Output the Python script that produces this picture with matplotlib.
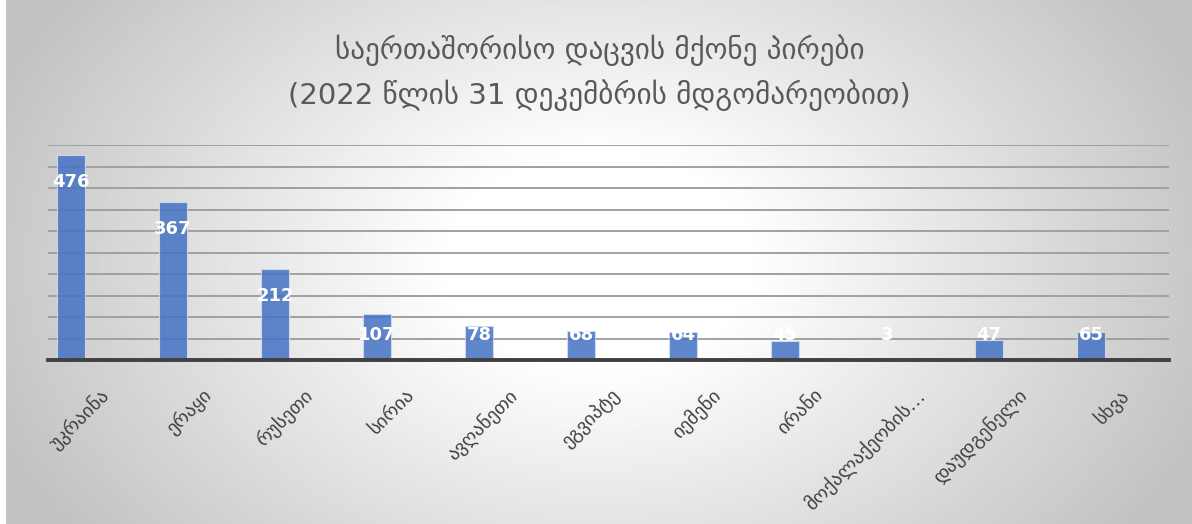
import numpy as np
import matplotlib.pyplot as plt

# მონაცემები
countries = ["უკრაინა", "ერაყი", "რუსეთი", "სირია", "ავღანეთი", "ეგვიპტე",
             "იემენი", "ირანი", "მოქალაქეობის…", "დაუდგენელი", "სხვა"]
values = [476, 367, 212, 107, 78, 68, 64, 45, 3, 47, 65]
title_lines = ["საერთაშორისო დაცვის მქონე პირები",
               "(2022 წლის 31 დეკემბრის მდგომარეობით)"]

plt.rcParams['font.family'] = ['DejaVu Sans']

fig = plt.figure(figsize=(11.92, 5.24), dpi=100)
fig.patch.set_facecolor("white")

# radial gradient background
bg = fig.add_axes([6 / 1192, 0, 1 - 6 / 1192, 1])
yy, xx = np.mgrid[-1:1:300j, -1:1:600j]
r = np.sqrt((xx / 1.0) ** 2 + (yy / 1.6) ** 2)
shade = np.clip(1.0 - 0.24 * np.clip(r - 0.25, 0, None) / 0.85, 0.76, 1.0)
bg.imshow(shade, cmap="gray", vmin=0, vmax=1, aspect="auto", extent=[0, 1, 0, 1])
bg.axis("off")

# plot area in pixels: x 48..1169, y 145..360
ax = fig.add_axes([48 / 1192, 1 - 360 / 524, (1169 - 48) / 1192, (360 - 145) / 524])
ax.patch.set_alpha(0)
x = np.arange(len(values))
ax.set_xlim(-0.225, 10.765)
ax.set_ylim(0, 500)

for yv in range(50, 501, 50):
    ax.axhline(yv, color="#a0a0a0", lw=1.4, zorder=1)
ax.axhline(0, color="#404040", lw=2.8, zorder=4, clip_on=False)

ax.bar(x, values, width=0.275, color="#4472c4", alpha=0.85,
       edgecolor="#d4deef", linewidth=0.8, zorder=2)

for xi, v in zip(x, values):
    ax.text(xi, max(v - 62, 58), str(v), ha="center", va="center",
            color="white", fontsize=13, fontweight="bold", zorder=5)

ax.set_yticks([])
ax.set_xticks(x + 0.275)
ax.set_xticklabels(countries, rotation=45, ha="right", rotation_mode="anchor",
                   fontsize=14, color="#404040")
ax.tick_params(axis="x", length=0, pad=18)
for s in ax.spines.values():
    s.set_visible(False)

fig.text(0.503, 1 - 50 / 524, title_lines[0], ha="center", va="center",
         fontsize=21, color="#595959")
fig.text(0.503, 1 - 95 / 524, title_lines[1], ha="center", va="center",
         fontsize=21, color="#595959")

fig.savefig("out.png", dpi=100)
